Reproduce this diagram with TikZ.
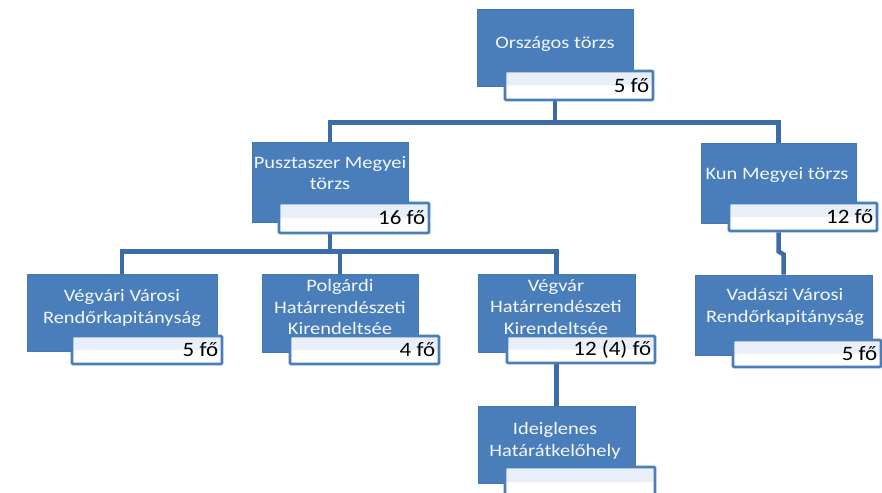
\documentclass[tikz,border=0pt]{standalone}
\usepackage{fontspec}
\setmainfont{Carlito}
\newfontfamily\boxfont[FakeStretch=1.17]{Carlito}
\newfontfamily\labfont[FakeStretch=1.12]{Carlito}
\definecolor{boxblue}{HTML}{4A7EBB}
\definecolor{boxedge}{HTML}{4477B5}
\definecolor{labedge}{HTML}{4A7EBB}
\definecolor{labtint}{HTML}{E8EFF8}
\definecolor{connblue}{HTML}{3C6CA6}
\definecolor{txtwhite}{HTML}{F4F7FC}
\pgfdeclarelayer{bg}
\pgfsetlayers{bg,main}
\begin{document}
\begin{tikzpicture}[x=1pt,y=-1pt,
  bluebox/.style={draw=boxedge, fill=boxblue, line width=0.8pt, inner sep=0pt},
  labbox/.style={draw=labedge, fill=white, line width=2.8pt, rounded corners=1.2pt, inner sep=0pt,
    path picture={\fill[labtint] (path picture bounding box.north west) rectangle (path picture bounding box.east);}},
  boxtext/.style={text=txtwhite, font=\boxfont\fontsize{17.5}{21.5}\selectfont, align=center, inner sep=0pt},
  labtext/.style={text=black, font=\labfont\fontsize{20.5}{22}\selectfont, inner sep=0pt, anchor=east},
  conn/.style={draw=connblue, line width=4.5pt}]
\useasboundingbox (0,0) rectangle (882,492);

% blue boxes
\node[bluebox, minimum width=156pt, minimum height=77pt] (top) at (555,47.5) {};
\node[bluebox, minimum width=156pt, minimum height=80pt] (pusz) at (330,182) {};
\node[bluebox, minimum width=155pt, minimum height=80pt] (kun) at (778.5,183) {};
\node[bluebox, minimum width=190pt, minimum height=77pt] (vegvari) at (122,312.5) {};
\node[bluebox, minimum width=156pt, minimum height=78pt] (polg) at (340,313) {};
\node[bluebox, minimum width=157pt, minimum height=78pt] (vegvar) at (556.5,313) {};
\node[bluebox, minimum width=157pt, minimum height=77pt] (ideig) at (556.5,444.5) {};
\node[bluebox, minimum width=177pt, minimum height=80pt] (vadaszi) at (783.5,315) {};

% box texts
\node[boxtext] (toptext) at (555,44) {Országos törzs};
\node[boxtext] (pusztext) at (330,173) {Pusztaszer Megyei\\törzs};
\node[boxtext] (kuntext) at (777,175) {Kun Megyei törzs};
\node[boxtext] (vegvaritext) at (122,308) {Végvári Városi\\Rendőrkapitányság};
\node[boxtext] (polgtext) at (340,307) {Polgárdi\\Határrendészeti\\Kirendeltsée};
\node[boxtext] (vegvartext) at (556,307) {Végvár\\Határrendészeti\\Kirendeltsée};
\node[boxtext] (ideigtext) at (555,441) {Ideiglenes\\Határátkelőhely};
\node[boxtext] (vadaszitext) at (785,307) {Vadászi Városi\\Rendőrkapitányság};

% labels
\node[labbox, minimum width=148pt, minimum height=29pt] (toplab) at (579,85.5) {};
\node[labbox, minimum width=150pt, minimum height=30pt] (puszlab) at (354,218) {};
\node[labbox, minimum width=148pt, minimum height=28pt] (kunlab) at (803,217) {};
\node[labbox, minimum width=150pt, minimum height=28pt] (vegvarilab) at (147,350) {};
\node[labbox, minimum width=149pt, minimum height=28pt] (polglab) at (364.5,350) {};
\node[labbox, minimum width=148pt, minimum height=27pt] (vegvarlab) at (581,349.5) {};
\node[labbox, minimum width=150pt, minimum height=30pt] (ideiglab) at (580,482) {};
\node[labbox, minimum width=148pt, minimum height=27pt] (vadaszilab) at (807,353.5) {};

% label texts
\node[labtext] (toplabt) at ([xshift=-5pt]toplab.east) {5 fő};
\node[labtext] (puszlabt) at ([xshift=-5pt]puszlab.east) {16 fő};
\node[labtext] (kunlabt) at ([xshift=-5pt]kunlab.east) {12 fő};
\node[labtext] (vegvarilabt) at ([xshift=-5pt]vegvarilab.east) {5 fő};
\node[labtext] (polglabt) at ([xshift=-5pt]polglab.east) {4 fő};
\node[labtext] (vegvarlabt) at ([xshift=-5pt]vegvarlab.east) {12 (4) fő};
\node[labtext] (vadaszilabt) at ([xshift=-5pt]vadaszilab.east) {5 fő};

% connectors, behind the boxes
\begin{pgfonlayer}{bg}
\draw[conn] (top.south |- toplab.south) -- ++(0,21) -| (pusz.north);
\draw[conn] (top.south |- toplab.south) -- ++(0,21) -| (kun.north);
\draw[conn] (pusz.south |- puszlab.south) -- ++(0,17) -| (vegvari.north);
\draw[conn] (pusz.south |- puszlab.south) -- ++(0,17) -| (polg.north);
\draw[conn] (pusz.south |- puszlab.south) -- ++(0,17) -| (vegvar.north);
\draw[conn] (kun.south |- kunlab.south) -- ++(0,19) -- ++(5,3) -- (vadaszi.north);
\draw[conn] (vegvar.south |- vegvarlab.south) -- (ideig.north);
\end{pgfonlayer}
\end{tikzpicture}
\end{document}
